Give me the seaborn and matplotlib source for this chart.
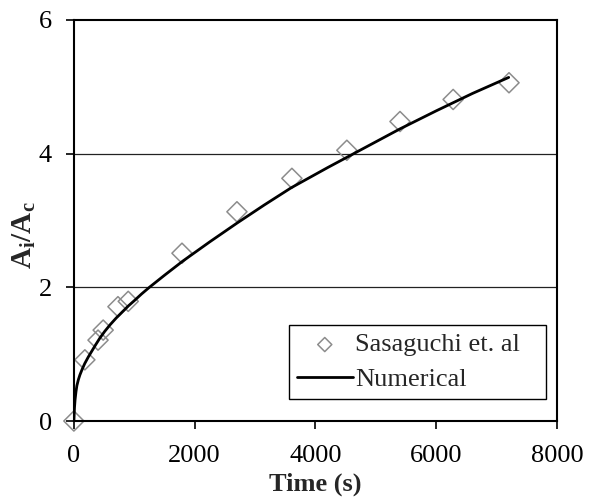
import matplotlib
matplotlib.use("Agg")
import matplotlib.pyplot as plt
import seaborn as sns
import pandas as pd

# Experimental data (Sasaguchi et. al)
exp_time = [0, 182, 400, 485, 730, 900, 1790, 2700, 3610, 4520, 5400, 6280, 7205]
exp_ratio = [0.0, 0.915, 1.21, 1.36, 1.71, 1.79, 2.51, 3.13, 3.63, 4.05, 4.48, 4.81, 5.06]

# Numerical curve
num_time = [0, 10, 20, 35, 50, 75, 100, 140, 180, 240, 300, 360, 430, 510, 600, 700, 800,
            900, 1000, 1120, 1250, 1500, 1800, 2250, 2700, 3150, 3600, 4200, 4800,
            5400, 6000, 6600, 7200]
num_ratio = [0.0, 0.2, 0.32, 0.44, 0.53, 0.62, 0.69, 0.78, 0.86, 0.96, 1.05, 1.14, 1.24,
             1.34, 1.44, 1.54, 1.63, 1.72, 1.8, 1.9, 2.0, 2.18, 2.39, 2.68, 2.96, 3.23,
             3.49, 3.79, 4.08, 4.37, 4.64, 4.9, 5.14]

x_ticks = [0, 2000, 4000, 6000, 8000]
y_ticks = [0, 2, 4, 6]

sns.set_theme(style="white")
plt.rcParams['font.family'] = ['Liberation Serif', 'DejaVu Serif']
plt.rcParams['mathtext.fontset'] = 'custom'
plt.rcParams['mathtext.rm'] = 'Liberation Serif'
plt.rcParams['mathtext.it'] = 'Liberation Serif'
plt.rcParams['mathtext.bf'] = 'Liberation Serif:bold'

exp_df = pd.DataFrame({"t": exp_time, "r": exp_ratio})
num_df = pd.DataFrame({"t": num_time, "r": num_ratio})

fig = plt.figure(figsize=(5.91, 4.98), dpi=100)
ax = fig.add_axes([0.125, 0.1546, 0.8175, 0.8054])

for y in [2, 4]:
    ax.axhline(y, color="#222222", lw=0.9, zorder=0)

sns.lineplot(data=num_df, x="t", y="r", ax=ax, color="black", lw=2.0,
             label="Numerical", zorder=3, sort=False)
sns.scatterplot(data=exp_df, x="t", y="r", ax=ax, marker="D", s=105,
                facecolor="none", edgecolor="#8c8c8c", linewidth=1.1,
                label="Sasaguchi et. al", zorder=2, clip_on=False)

ax.set_xlim(0, 8000)
ax.set_ylim(0, 6)
ax.set_xticks(x_ticks)
ax.set_yticks(y_ticks)
ax.tick_params(axis="both", direction="out", length=6, width=1.2, colors="black",
               labelsize=19, left=True, bottom=True)
ax.tick_params(axis="x", pad=11)
ax.tick_params(axis="y", pad=10)
for s in ax.spines.values():
    s.set_color("black")
    s.set_linewidth(1.5)

ax.set_xlabel("Time (s)", fontsize=19, fontweight="bold", labelpad=4)
ax.set_ylabel(r"$\mathbf{A_i/A_c}$", fontsize=21)
ax.yaxis.set_label_coords(-0.075, 0.4625)

handles, labels = ax.get_legend_handles_labels()
order = [labels.index("Sasaguchi et. al"), labels.index("Numerical")]
leg = ax.legend([handles[i] for i in order], [labels[i] for i in order],
                loc="lower left", bbox_to_anchor=(0.445, 0.055, 0.532, 0.3),
                mode="expand", borderaxespad=0,
                fontsize=19, frameon=True, fancybox=False, edgecolor="black",
                framealpha=1, handlelength=2.12, handletextpad=0.08,
                borderpad=0.3, labelspacing=0.42, markerscale=0.7)
leg.get_frame().set_linewidth(1.0)

fig.savefig("out.png", dpi=100)
